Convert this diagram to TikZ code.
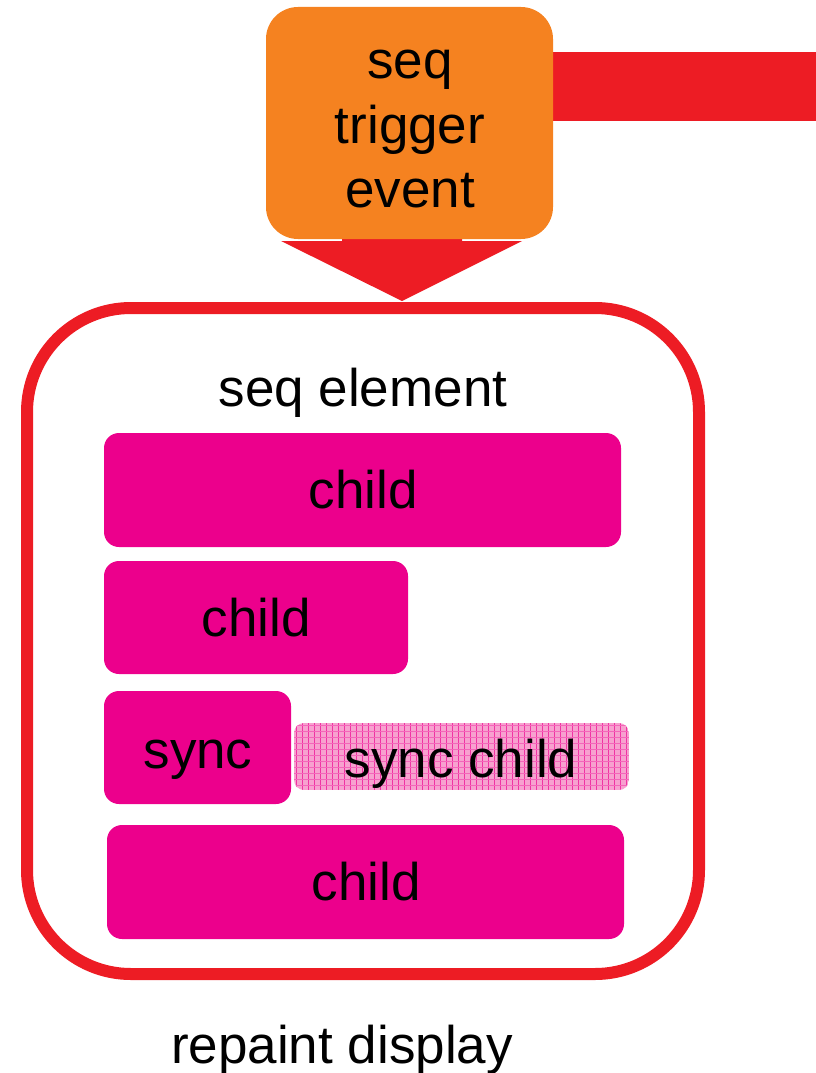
\documentclass[tikz,border=0pt]{standalone}
\usepackage{fontspec}
\setmainfont{Liberation Sans}
\definecolor{rred}{HTML}{ED1C24}
\definecolor{oorange}{HTML}{F58220}
\definecolor{mmag}{HTML}{EC008C}
\definecolor{lpink}{HTML}{F7A1CF}
\begin{document}
\begin{tikzpicture}[x=1pt,y=-1pt,
  txt/.style={font=\fontsize{53}{63.5}\selectfont, text=black, inner sep=0pt, anchor=base},
  childbox/.style={fill=mmag, rounded corners=15pt, inner sep=0pt},
  trigbox/.style={fill=oorange, rounded corners=32pt, inner sep=0pt},
  outerbox/.style={draw=rred, line width=12pt, rounded corners=104pt, inner sep=0pt}]
\useasboundingbox (0,0) rectangle (816,1073);
% red bar
\fill[rred] (540,52) rectangle (816,121);
% down arrow
\fill[rred] (342,200) -- (462,200) -- (462,241) -- (522,241) -- (402,301) -- (281,241) -- (342,241) -- cycle;
% trigger
\node[trigbox, minimum width=287pt, minimum height=232pt] (trig) at (409.5,123) {};
\node[txt] (trigA) at (410,78) {seq};
\node[txt] (trigB) at (410,143) {trigger};
\node[txt] (trigC) at (410,207) {event};
% outer
\node[outerbox, minimum width=672pt, minimum height=666pt] (seqel) at (363,641) {};
\node[txt] (seqlbl) at (363,406) {seq element};
% children
\node[childbox, minimum width=517pt, minimum height=114pt] (c1) at (362.5,490) {};
\node[txt] (c1t) at (363,508) {child};
\node[childbox, minimum width=304pt, minimum height=113pt] (c2) at (256,617.5) {};
\node[txt] (c2t) at (256,636) {child};
\node[childbox, minimum width=187pt, minimum height=113pt] (sync) at (197.5,747.5) {};
\node[txt] (synct) at (198,768) {sync};
\node[childbox, minimum width=517pt, minimum height=114pt] (c4) at (365.5,882) {};
\node[txt] (c4t) at (366,900) {child};
% sync child
\begin{scope}
\clip[rounded corners=10pt] (294,723) rectangle (629,790);
\fill[lpink] (294,723) rectangle (629,790);
\foreach \gx in {296,302,...,628} \draw[mmag!80, line width=0.6pt] (\gx,723) -- (\gx,790);
\foreach \gy in {725,731,...,790} \draw[mmag!60, line width=0.6pt] (294,\gy) -- (629,\gy);
\end{scope}
\node[inner sep=0pt, minimum width=335pt, minimum height=67pt] (sc) at (461.5,756.5) {};
\node[txt] (sct) at (461,777) {sync child};
\node[txt] (rep) at (342,1063) {repaint display};
\end{tikzpicture}
\end{document}
